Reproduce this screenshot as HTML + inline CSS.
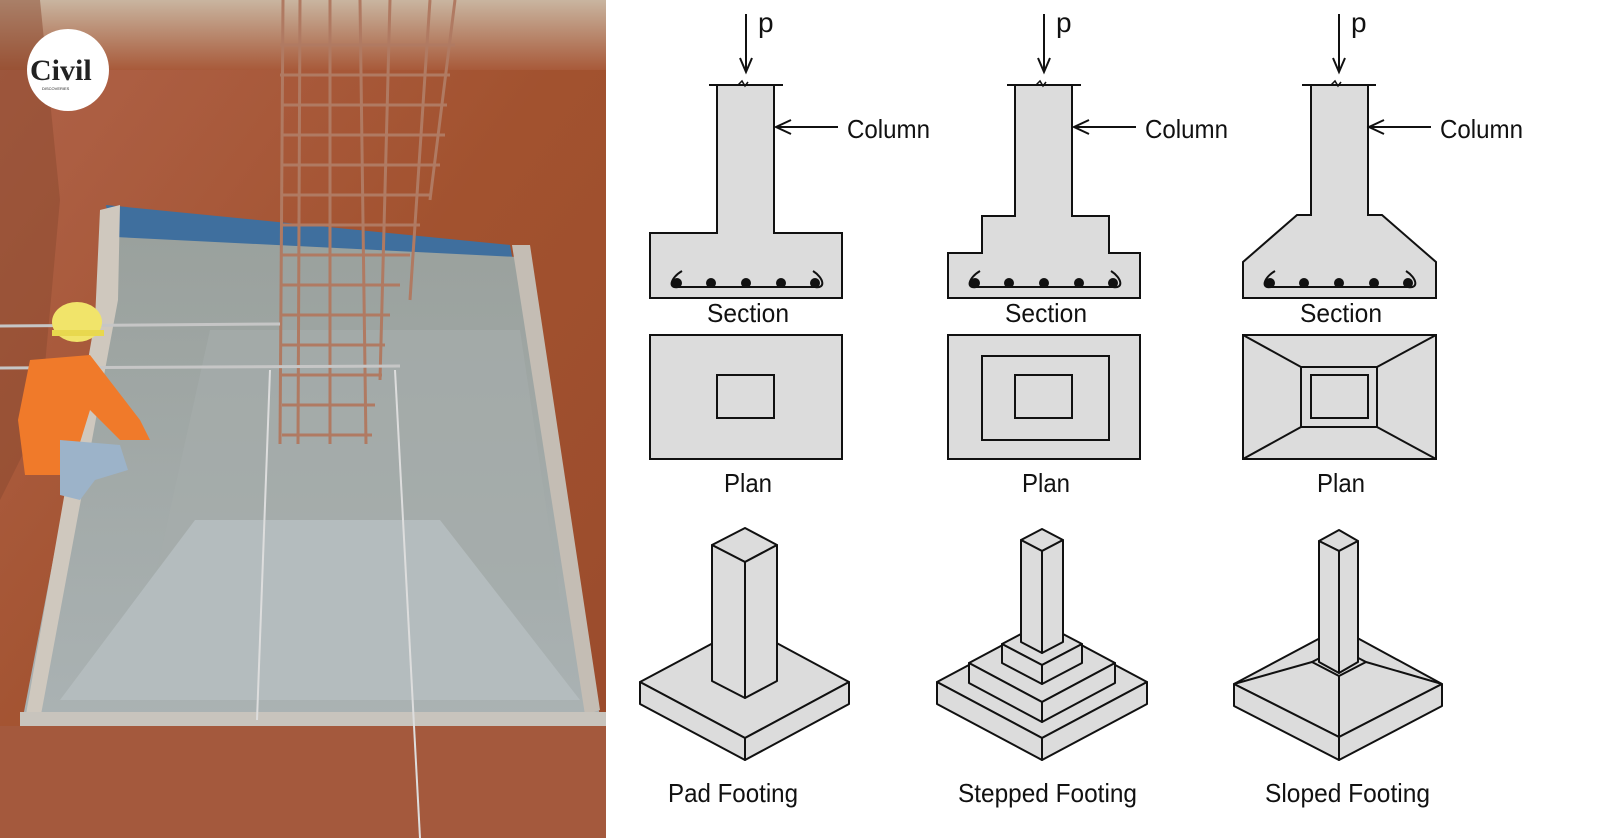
<!DOCTYPE html>
<html><head><meta charset="utf-8"><style>
html,body{margin:0;padding:0;background:#fff}
body{width:1600px;height:838px;overflow:hidden;position:relative}
svg{position:absolute;left:0;top:0}
text{font-family:"Liberation Sans",Arial,sans-serif;fill:#111}
</style></head><body>
<svg width="1600" height="838" viewBox="0 0 1600 838">
<defs>
<linearGradient id="soil" x1="0" y1="0" x2="1" y2="1">
<stop offset="0" stop-color="#b0634a"/><stop offset="0.5" stop-color="#a2522f"/><stop offset="1" stop-color="#9a4b2c"/>
</linearGradient>
<linearGradient id="conc" x1="0" y1="0" x2="0" y2="1">
<stop offset="0" stop-color="#9aa19d"/><stop offset="1" stop-color="#aab2b3"/>
</linearGradient>
<linearGradient id="top" x1="0" y1="0" x2="0" y2="1">
<stop offset="0" stop-color="#c9b5a0"/><stop offset="1" stop-color="#a85a3a"/>
</linearGradient>
</defs>
<!-- PHOTO -->
<rect x="0" y="0" width="606" height="838" fill="url(#soil)"/>
<rect x="0" y="0" width="606" height="70" fill="url(#top)"/>
<polygon points="0,0 40,0 60,200 40,420 0,500" fill="#8a4a30" opacity="0.5"/>
<polygon points="106,205 510,245 513,262 112,240" fill="#3f6f9e"/>
<polygon points="115,237 517,257 600,717 23,717" fill="url(#conc)"/>
<polygon points="210,330 520,330 560,600 150,600" fill="#a5adab" opacity="0.7"/>
<polygon points="195,520 440,520 580,700 60,700" fill="#b4bcbe"/>
<polygon points="100,210 120,205 118,300 40,720 25,720 95,320" fill="#cfc8be"/>
<polygon points="512,245 530,245 600,710 585,715" fill="#c4bdb4"/>
<rect x="20" y="712" width="586" height="14" fill="#c8c4bd"/>
<rect x="0" y="726" width="606" height="112" fill="#a4593d"/>
<g stroke="#b07a62" stroke-width="3" fill="none">
<line x1="283" y1="0" x2="280" y2="444"/><line x1="300" y1="0" x2="298" y2="444"/>
<line x1="330" y1="0" x2="330" y2="444"/><line x1="360" y1="0" x2="366" y2="444"/>
<line x1="390" y1="0" x2="380" y2="380"/><line x1="430" y1="0" x2="410" y2="300"/><line x1="455" y1="0" x2="430" y2="200"/>
<path d="M280 45H455M280 75H450M282 105H447M282 135H445M282 165H440M282 195H430M282 225H420M282 255H410M282 285H400M282 315H390M282 345H385M282 375H382M282 405H375M282 435H372"/>
</g>
<line x1="0" y1="326" x2="280" y2="324" stroke="#c6c6c6" stroke-width="3"/>
<line x1="0" y1="368" x2="400" y2="366" stroke="#c6c6c6" stroke-width="3"/>
<line x1="270" y1="370" x2="257" y2="720" stroke="#ddd" stroke-width="2"/>
<line x1="395" y1="370" x2="420" y2="838" stroke="#ddd" stroke-width="2"/>
<path d="M30 360 L90 355 L140 420 L150 440 L120 440 L90 410 L70 475 L25 475 L18 420Z" fill="#f07a2a"/>
<path d="M60 440 L120 445 L128 470 L95 480 L80 500 L60 495Z" fill="#9cb3c9"/>
<ellipse cx="77" cy="322" rx="25" ry="20" fill="#f1e46a"/>
<rect x="52" y="330" width="52" height="6" fill="#e8d84e"/>
<ellipse cx="68" cy="70" rx="41" ry="41" fill="#fff"/>
<text x="30" y="80" font-size="30" font-weight="bold" style="font-family:'Liberation Serif',serif;fill:#222">Civil</text>
<text x="42" y="90" font-size="4" style="fill:#222">DISCOVERIES</text>

<!-- DIAGRAM -->
<g stroke="#111" stroke-width="2" fill="#dcdcdc">
<g>
<path d="M717 85 V233 H650 V298 H842 V233 H774 V85Z"/>
<rect x="650" y="335" width="192" height="124"/>
<rect x="717" y="375" width="57" height="43"/>
</g>
<g transform="translate(298,0)">
<path d="M717 85 V216 H684 V253 H650 V298 H842 V253 H811 V216 H774 V85Z"/>
<rect x="650" y="335" width="192" height="124"/>
<rect x="684" y="356" width="127" height="84"/>
<rect x="717" y="375" width="57" height="43"/>
</g>
<g transform="translate(593,0)">
<path d="M718 85 V215 H704 L650 262 V298 H843 V262 L789 215 H775 V85Z"/>
<rect x="650" y="335" width="193" height="124"/>
<path d="M650 335 L708 367 M843 335 L784 367 M650 459 L708 427 M843 459 L784 427" fill="none"/>
<rect x="708" y="367" width="76" height="60"/>
<rect x="718" y="375" width="57" height="43"/>
</g>
</g>
<g id="ann">
<g stroke="#111" stroke-width="2" fill="none">
<path d="M709 85 H783"/>
<path d="M738 85 l4 -4 l3 5 l3 -4" stroke-width="1.5"/>
<path d="M746 14 V72 M740 58 L746 72 L752 58"/>
<path d="M776 127 H838 M791 120 L776 127 L791 134"/>
<path d="M682 271 C670 278 668 289 678 287 L815 287 C826 289 824 278 813 271"/>
</g>
<g fill="#111"><circle cx="677" cy="283" r="5"/><circle cx="711" cy="283" r="5"/><circle cx="746" cy="283" r="5"/><circle cx="781" cy="283" r="5"/><circle cx="815" cy="283" r="5"/></g>
<text x="758" y="32" font-size="28">p</text>
<text x="847" y="138" font-size="26" textLength="83" lengthAdjust="spacingAndGlyphs">Column</text>
<text x="707" y="322" font-size="26" textLength="82" lengthAdjust="spacingAndGlyphs">Section</text>
<text x="724" y="492" font-size="26" textLength="48" lengthAdjust="spacingAndGlyphs">Plan</text>
</g>
<use href="#ann" transform="translate(298,0)"/>
<use href="#ann" transform="translate(593,0)"/>

<g stroke="#111" stroke-width="2" fill="#dcdcdc" stroke-linejoin="round">
<polygon points="640,682 745,626 849,682 745,738"/>
<polygon points="640,682 745,738 745,760 640,704"/>
<polygon points="849,682 745,738 745,760 849,704"/>
<polygon points="712,545 745,528 777,545 745,562"/>
<polygon points="712,545 745,562 745,698 712,681"/>
<polygon points="777,545 745,562 745,698 777,681"/>
<polygon points="937,682 1042,626 1147,682 1042,738"/>
<polygon points="937,682 1042,738 1042,760 937,704"/>
<polygon points="1147,682 1042,738 1042,760 1147,704"/>
<polygon points="969,663 1042,624 1115,663 1042,702"/>
<polygon points="969,663 1042,702 1042,722 969,683"/>
<polygon points="1115,663 1042,702 1042,722 1115,683"/>
<polygon points="1002,644 1042,623 1082,644 1042,665"/>
<polygon points="1002,644 1042,665 1042,684 1002,663"/>
<polygon points="1082,644 1042,665 1042,684 1082,663"/>
<polygon points="1021,540 1042,529 1063,540 1042,551"/>
<polygon points="1021,540 1042,551 1042,653 1021,642"/>
<polygon points="1063,540 1042,551 1042,653 1063,642"/>
<polygon points="1234,684 1339,628 1442,684 1339,737"/>
<polygon points="1234,684 1339,737 1339,760 1234,706"/>
<polygon points="1442,684 1339,737 1339,760 1442,706"/>
<path d="M1234,684 L1312,662 M1442,684 L1366,662 M1339,737 L1339,676" fill="none"/>
<polygon points="1312,662 1339,648 1366,662 1339,676"/>
<polygon points="1319,541 1339,530 1358,541 1339,551"/>
<polygon points="1319,541 1339,551 1339,673 1319,662"/>
<polygon points="1358,541 1339,551 1339,673 1358,662"/>
</g>
<text x="668" y="802" font-size="26" textLength="130" lengthAdjust="spacingAndGlyphs">Pad Footing</text>
<text x="958" y="802" font-size="26" textLength="179" lengthAdjust="spacingAndGlyphs">Stepped Footing</text>
<text x="1265" y="802" font-size="26" textLength="165" lengthAdjust="spacingAndGlyphs">Sloped Footing</text>
</svg>
</body></html>
